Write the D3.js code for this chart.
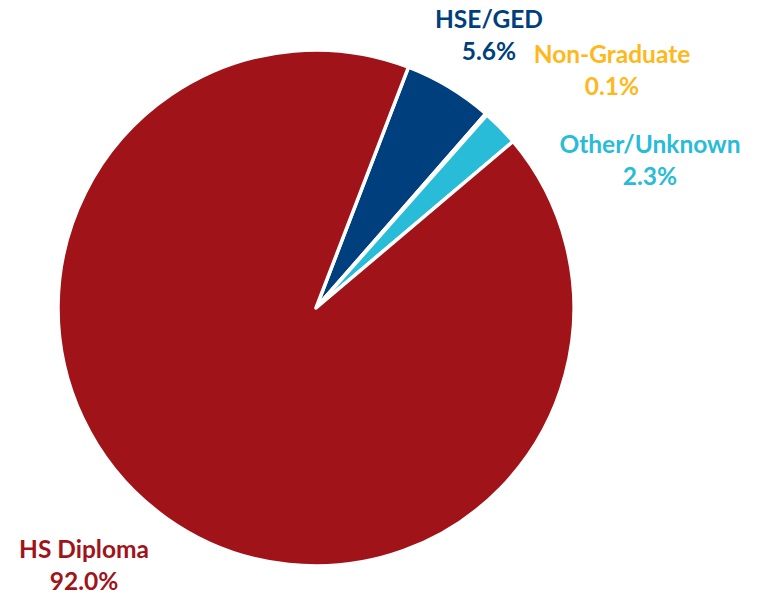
<!DOCTYPE html>
<html><head><meta charset="utf-8">
<script src="https://cdn.jsdelivr.net/npm/d3@7"></script>
<style>body{margin:0;background:#fff}svg{display:block}</style>
</head><body>
<svg id="c" width="762" height="595"></svg>
<script>
const categories = ["HSE/GED", "Non-Graduate", "Other/Unknown", "HS Diploma"];
const values = [5.6, 0.1, 2.3, 92.0];
const valueLabels = ["5.6%", "0.1%", "2.3%", "92.0%"];
const colors = ["#003F7D", "#FFB81C", "#29BCD8", "#A01419"];
// label anchor positions (layout)
const labelPos = [[489, 28], [612, 63], [650, 153], [84, 558]];

const svg = d3.select("#c");
const cx = 316, cy = 308, r = 258;
const startDeg = 21;
const pie = d3.pie().sort(null).value(d => d)
  .startAngle(startDeg * Math.PI / 180)
  .endAngle((startDeg + 360) * Math.PI / 180);
const arc = d3.arc().innerRadius(0).outerRadius(r);
const g = svg.append("g").attr("transform", `translate(${cx},${cy})`);
g.selectAll("path").data(pie(values)).join("path")
  .attr("d", arc)
  .attr("fill", (d, i) => colors[i])
  .attr("stroke", "#fff").attr("stroke-width", 3.5).attr("stroke-linejoin", "round");

const lab = svg.append("g").attr("font-family", "Lato, 'Open Sans', sans-serif")
  .attr("font-weight", "bold").attr("font-size", 24.5).attr("text-anchor", "middle");
categories.forEach((c, i) => {
  const t = lab.append("text").attr("x", labelPos[i][0]).attr("y", labelPos[i][1]).attr("fill", colors[i]);
  t.append("tspan").attr("x", labelPos[i][0]).text(c);
  t.append("tspan").attr("x", labelPos[i][0]).attr("dy", 32).text(valueLabels[i]);
});
</script>
</body></html>
